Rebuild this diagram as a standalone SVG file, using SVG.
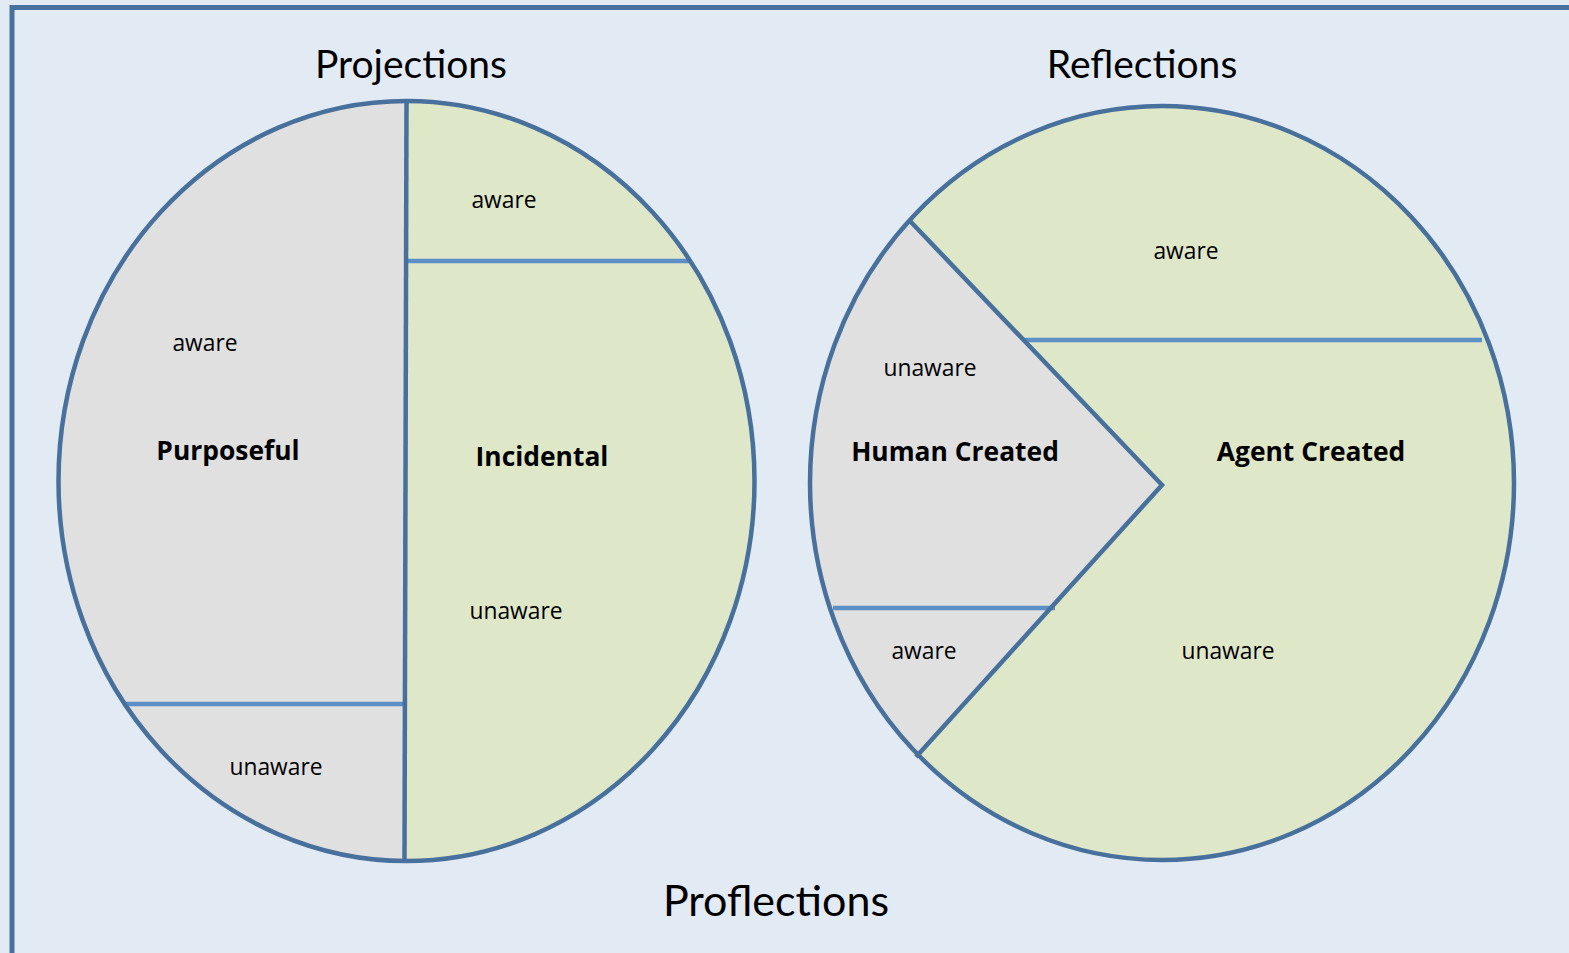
<svg xmlns="http://www.w3.org/2000/svg" width="1569" height="953" viewBox="0 0 1569 953">
<style>
.bg{fill:#e2eaf4}
.frame{fill:none;stroke:#48709c;stroke-width:5}
.green{fill:#dee7c8}
.gray{fill:#e0e0e0}
.outline{fill:none;stroke:#48709c;stroke-width:4.5}
.dark{fill:none;stroke:#48709c;stroke-width:4.5}
.light{fill:none;stroke:#5b8fc6;stroke-width:4.5}
.title{font-family:Lato,"Open Sans",sans-serif;font-size:39px;fill:#000;text-anchor:middle}
.big{font-size:43px}
.lbl{font-family:"Open Sans",sans-serif;font-size:22.8px;fill:#000;text-anchor:middle}
.bold{font-family:"Open Sans",sans-serif;font-size:26.4px;font-weight:bold;fill:#000;text-anchor:middle}
</style>
<rect class="bg" x="0" y="0" width="1569" height="953"/>
<path class="frame" d="M12,953 V7.5 H1569"/>
<g id="projections">
<ellipse class="green" cx="406.5" cy="481" rx="348" ry="380"/>
<path class="gray" d="M406.5,101 A348,380 0 0,0 404.5,861 Z"/>
<line class="light" x1="408" y1="261" x2="690" y2="261"/>
<line class="light" x1="123" y1="704" x2="405" y2="704"/>
<line class="dark" x1="406.5" y1="101" x2="404.5" y2="861"/>
<ellipse class="outline" cx="406.5" cy="481" rx="348" ry="380"/>
<text class="title" x="411" y="78">Projections</text>
<text class="lbl" x="504" y="208">aware</text>
<text class="lbl" x="205" y="351">aware</text>
<text class="bold" x="228" y="460">Purposeful</text>
<text class="bold" x="542" y="466">Incidental</text>
<text class="lbl" x="516" y="619">unaware</text>
<text class="lbl" x="276" y="775">unaware</text>
</g>
<g id="reflections">
<ellipse class="green" cx="1162" cy="483" rx="352" ry="377"/>
<path class="gray" d="M910,221 L1162,485 L916,757 A352,377 0 0,1 910,221 Z"/>
<line class="light" x1="1024" y1="340" x2="1482" y2="340"/>
<line class="light" x1="833" y1="608" x2="1055" y2="608"/>
<path class="dark" d="M910,221 L1162,485 L916,757"/>
<ellipse class="outline" cx="1162" cy="483" rx="352" ry="377"/>
<text class="title" x="1142" y="78">Reflections</text>
<text class="lbl" x="1186" y="259">aware</text>
<text class="lbl" x="930" y="376">unaware</text>
<text class="bold" x="955" y="461">Human Created</text>
<text class="bold" x="1311" y="461">Agent Created</text>
<text class="lbl" x="924" y="659">aware</text>
<text class="lbl" x="1228" y="659">unaware</text>
</g>
<g id="proflections">
<text class="title big" x="776" y="916">Proflections</text>
</g>
<g id="connectors"/>
</svg>
